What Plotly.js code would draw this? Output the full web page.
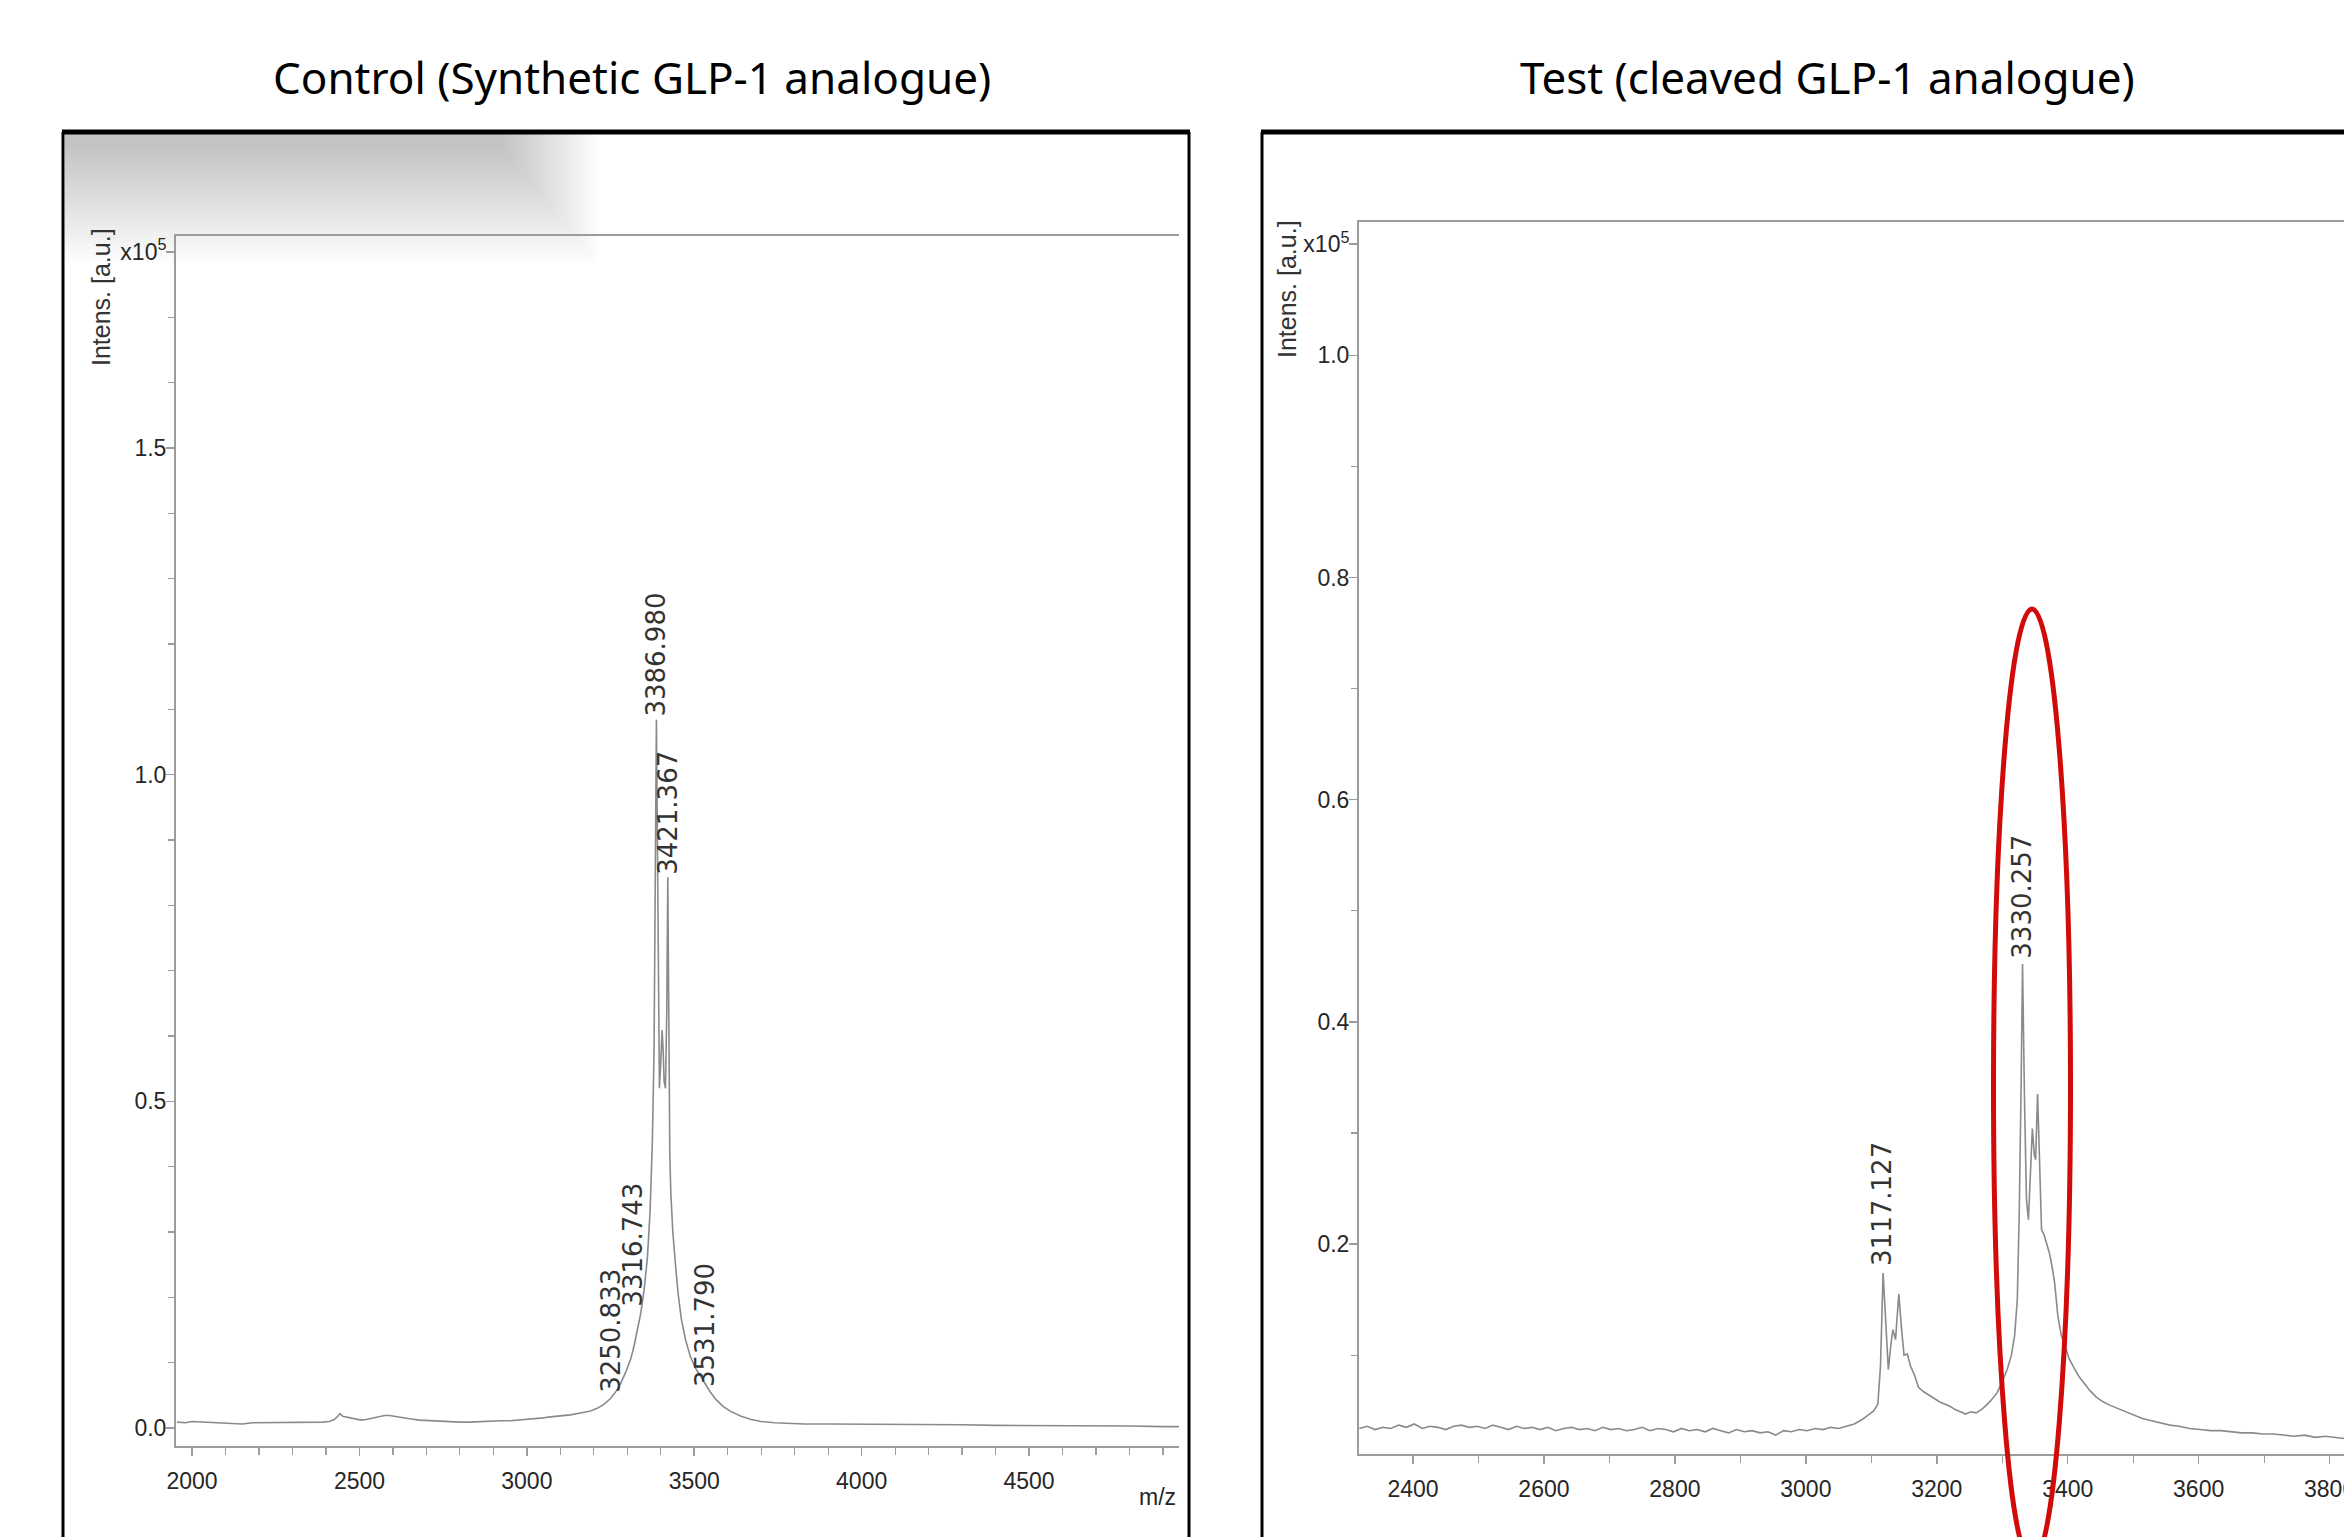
<!DOCTYPE html>
<html>
<head>
<meta charset="utf-8">
<script src="https://cdn.plot.ly/plotly-3.0.1.min.js"></script>
<style>html,body{margin:0;padding:0;background:#fff;}#chart{width:2344px;height:1537px;}</style>
</head>
<body>
<div id="chart"></div>
<script>
// ---------- Data (intensities in units of 1e5 a.u.) ----------
const controlMz = [1955,1980,2000,2030,2060,2090,2120,2150,2180,2210,2240,2270,2300,2330,2360,2390,2410,2425,2435,2442,2450,2460,2475,2490,2505,2520,2540,2560,2575,2590,2610,2630,2650,2680,2710,2740,2770,2800,2830,2860,2890,2920,2950,2980,3010,3040,3070,3100,3130,3160,3190,3210,3230,3250,3265,3280,3295,3310,3320,3330,3340,3350,3360,3368,3375,3380,3384,3387,3390,3393,3396,3400,3404,3407,3410,3414,3418,3421,3424,3427,3430,3436,3444,3452,3462,3474,3488,3502,3518,3532,3548,3566,3586,3610,3640,3670,3700,3740,3780,3830,3900,4000,4100,4200,4300,4400,4500,4600,4700,4800,4900,4948];
const controlIntensity = [0.009,0.008,0.010,0.009,0.008,0.007,0.006,0.006,0.008,0.008,0.009,0.008,0.009,0.009,0.009,0.009,0.010,0.013,0.018,0.022,0.018,0.017,0.015,0.013,0.012,0.013,0.015,0.018,0.019,0.019,0.017,0.016,0.014,0.012,0.011,0.010,0.009,0.009,0.009,0.010,0.010,0.011,0.011,0.012,0.013,0.015,0.017,0.018,0.020,0.023,0.026,0.030,0.036,0.045,0.055,0.068,0.085,0.105,0.125,0.150,0.175,0.210,0.260,0.330,0.440,0.580,0.800,1.084,0.900,0.640,0.520,0.560,0.609,0.580,0.530,0.520,0.640,0.843,0.620,0.420,0.360,0.300,0.250,0.205,0.165,0.135,0.110,0.093,0.080,0.068,0.055,0.043,0.033,0.025,0.018,0.013,0.010,0.008,0.007,0.006,0.006,0.006,0.005,0.005,0.005,0.004,0.004,0.004,0.003,0.003,0.002,0.002];

const testMz = [2318,2330,2342,2354,2366,2378,2390,2402,2414,2426,2438,2450,2462,2474,2486,2498,2510,2522,2534,2546,2558,2570,2582,2594,2606,2618,2630,2642,2654,2666,2678,2690,2702,2714,2726,2738,2750,2762,2774,2786,2798,2810,2822,2834,2846,2858,2870,2882,2894,2906,2918,2930,2942,2954,2966,2978,2990,3002,3014,3026,3038,3050,3062,3074,3086,3096,3104,3110,3114,3118,3122,3126,3130,3133,3137,3142,3146,3150,3155,3160,3166,3172,3180,3188,3196,3204,3212,3220,3228,3236,3244,3252,3260,3268,3276,3284,3292,3300,3308,3314,3319,3323,3326,3329,3331,3334,3337,3340,3343,3346,3349,3351,3354,3357,3360,3364,3368,3372,3376,3380,3385,3390,3396,3402,3410,3418,3426,3434,3444,3454,3464,3476,3488,3500,3514,3528,3542,3556,3570,3586,3602,3618,3634,3650,3666,3682,3698,3714,3730,3746,3762,3778,3794,3810,3822];
const testIntensity = [0.034,0.036,0.033,0.035,0.034,0.037,0.035,0.038,0.034,0.036,0.035,0.033,0.036,0.037,0.035,0.036,0.034,0.037,0.035,0.033,0.036,0.034,0.035,0.033,0.035,0.032,0.034,0.035,0.033,0.034,0.032,0.035,0.033,0.034,0.032,0.033,0.035,0.032,0.034,0.033,0.031,0.034,0.032,0.033,0.031,0.034,0.032,0.030,0.033,0.031,0.032,0.030,0.031,0.028,0.032,0.031,0.033,0.032,0.034,0.033,0.035,0.034,0.036,0.038,0.042,0.046,0.050,0.056,0.090,0.174,0.130,0.087,0.110,0.123,0.114,0.155,0.125,0.100,0.101,0.090,0.082,0.071,0.067,0.064,0.061,0.058,0.056,0.054,0.051,0.049,0.047,0.049,0.048,0.051,0.055,0.060,0.066,0.076,0.088,0.100,0.118,0.150,0.230,0.350,0.452,0.330,0.240,0.222,0.270,0.304,0.280,0.276,0.335,0.270,0.213,0.208,0.200,0.192,0.180,0.165,0.135,0.118,0.108,0.097,0.088,0.080,0.074,0.068,0.062,0.058,0.055,0.052,0.049,0.046,0.043,0.041,0.039,0.037,0.036,0.034,0.033,0.032,0.032,0.031,0.030,0.030,0.029,0.029,0.028,0.027,0.028,0.026,0.027,0.026,0.025];

// peak labels
const controlPeakMz = [3250.833, 3316.743, 3386.980, 3421.367, 3531.790];
const controlPeakLabelY = [0.052, 0.184, 1.088, 0.845, 0.061];
const testPeakMz = [3117.127, 3330.257];
const testPeakLabelY = [0.179, 0.456];

// axis ticks
const controlYTickVals = [0, 0.5, 1.0, 1.5, 1.8];
const controlYTickText = ['0.0', '0.5', '1.0', '1.5', 'x10<sup>5</sup>'];
const testYTickVals = [0.2, 0.4, 0.6, 0.8, 1.0, 1.1];
const testYTickText = ['0.2', '0.4', '0.6', '0.8', '1.0', 'x10<sup>5</sup>'];

const panelTitles = ['Control (Synthetic GLP-1 analogue)', 'Test (cleaved GLP-1 analogue)'];

// ---------- Layout helpers ----------
const W = 2344, H = 1537;
const px = x => x / W;
const py = y => 1 - y / H;

const AXIS_GRAY = '#9c9c9c';
const TICK_FONT = {family: '"Liberation Sans", Arial, sans-serif', size: 23, color: '#262626'};
const LABEL_FONT = {family: '"DejaVu Sans", "Liberation Sans", sans-serif', size: 26, color: '#333333'};
const TITLE_FONT = {family: '"Noto Sans", "Open Sans", sans-serif', size: 44, color: '#000'};
const YT_FONT = {family: '"Liberation Sans", Arial, sans-serif', size: 25, color: '#333'};

function xAxis(domain, range, tick0, dtick, minorDtick, anchor) {
  return {
    domain: domain, range: range, anchor: anchor,
    showline: true, linecolor: AXIS_GRAY, linewidth: 2, mirror: true,
    ticks: 'outside', ticklen: 8, tickwidth: 1.5, tickcolor: AXIS_GRAY,
    tickmode: 'linear', tick0: tick0, dtick: dtick,
    minor: {ticks: 'outside', ticklen: 7, tickwidth: 1.2, tickcolor: AXIS_GRAY, tickmode: 'linear', tick0: tick0, dtick: minorDtick, showgrid: false},
    showgrid: false, zeroline: false, tickfont: TICK_FONT, ticklabelstandoff: 5,
    ticklabeloverflow: 'allow'
  };
}
function yAxis(domain, range, vals, text, anchor) {
  return {
    domain: domain, range: range, anchor: anchor,
    showline: true, linecolor: AXIS_GRAY, linewidth: 2, mirror: false,
    ticks: 'outside', ticklen: 8, tickwidth: 1.5, tickcolor: AXIS_GRAY,
    tickmode: 'array', tickvals: vals, ticktext: text,
    minor: {ticks: 'outside', ticklen: 6, tickwidth: 1.2, tickcolor: AXIS_GRAY, tickmode: 'linear', tick0: 0, dtick: 0.1, showgrid: false},
    showgrid: false, zeroline: false, tickfont: TICK_FONT, ticklabelstandoff: -5,
    ticklabeloverflow: 'allow'
  };
}

const traces = [
  {x: controlMz, y: controlIntensity, type: 'scatter', mode: 'lines', xaxis: 'x', yaxis: 'y',
   line: {color: '#8a8a8a', width: 1.6}, hoverinfo: 'skip'},
  {x: testMz, y: testIntensity, type: 'scatter', mode: 'lines', xaxis: 'x2', yaxis: 'y2',
   line: {color: '#8a8a8a', width: 1.6}, hoverinfo: 'skip'}
];

const annotations = [];
// panel titles
annotations.push({text: panelTitles[0], xref: 'paper', yref: 'paper', x: px(632), y: py(77), xanchor: 'center', yanchor: 'middle', showarrow: false, font: TITLE_FONT});
annotations.push({text: panelTitles[1], xref: 'paper', yref: 'paper', x: px(1827), y: py(77), xanchor: 'center', yanchor: 'middle', showarrow: false, font: TITLE_FONT});
// y-axis titles
annotations.push({text: 'Intens. [a.u.]', xref: 'paper', yref: 'paper', x: px(101), y: py(226), xanchor: 'center', yanchor: 'top', textangle: -90, showarrow: false, font: YT_FONT});
annotations.push({text: 'Intens. [a.u.]', xref: 'paper', yref: 'paper', x: px(1287), y: py(218), xanchor: 'center', yanchor: 'top', textangle: -90, showarrow: false, font: YT_FONT});
// m/z label
annotations.push({text: 'm/z', xref: 'paper', yref: 'paper', x: px(1178), y: py(1497), xanchor: 'right', yanchor: 'middle', showarrow: false, font: TICK_FONT});
// peak labels
controlPeakMz.forEach((m, i) => annotations.push({
  text: m.toFixed(3), x: m, y: controlPeakLabelY[i], xref: 'x', yref: 'y', textangle: -90,
  xanchor: 'center', yanchor: 'bottom', showarrow: false, font: LABEL_FONT, borderpad: 0
}));
testPeakMz.forEach((m, i) => annotations.push({
  text: m.toFixed(3), x: m, y: testPeakLabelY[i], xref: 'x2', yref: 'y2', textangle: -90,
  xanchor: 'center', yanchor: 'bottom', showarrow: false, font: LABEL_FONT, borderpad: 0
}));

const shapes = [];
// soft gray shading in the top-left of the left frame
const N_SHADE = 20;
for (let k = 0; k < N_SHADE; k++) {
  shapes.push({type: 'rect', xref: 'paper', yref: 'paper', layer: 'below',
    x0: px(65), x1: px(598 - 5 * k), y0: py(262 - 6 * k), y1: py(134),
    fillcolor: 'rgba(0,0,0,0.011)', line: {width: 0}});
}
// black frames around each panel
const FRAME = {color: '#000', width: 3};
shapes.push({type: 'line', xref: 'paper', yref: 'paper', x0: px(62), x1: px(1190), y0: py(132), y1: py(132), line: {color: '#000', width: 5}});
shapes.push({type: 'line', xref: 'paper', yref: 'paper', x0: px(63), x1: px(63), y0: py(132), y1: -0.05, line: FRAME});
shapes.push({type: 'line', xref: 'paper', yref: 'paper', x0: px(1189), x1: px(1189), y0: py(132), y1: -0.05, line: FRAME});
shapes.push({type: 'line', xref: 'paper', yref: 'paper', x0: px(1261), x1: 1.01, y0: py(132), y1: py(132), line: {color: '#000', width: 5}});
shapes.push({type: 'line', xref: 'paper', yref: 'paper', x0: px(1262), x1: px(1262), y0: py(132), y1: -0.05, line: FRAME});
// red highlight ellipse around the 3330 peak
shapes.push({type: 'circle', xref: 'paper', yref: 'paper', x0: px(1993.5), x1: px(2070.5), y0: py(1563), y1: py(609),
  line: {color: '#d10a0a', width: 5}});

const layout = {
  width: W, height: H, margin: {l: 0, r: 0, t: 0, b: 0, pad: 0},
  paper_bgcolor: '#ffffff', plot_bgcolor: 'rgba(0,0,0,0)', showlegend: false,
  xaxis: xAxis([px(176), px(1179)], [1952, 4948], 2000, 500, 100, 'y'),
  yaxis: yAxis([py(1446), py(236)], [-0.0276, 1.8245], controlYTickVals, controlYTickText, 'x'),
  xaxis2: xAxis([px(1359), 1], [2317.5, 3822], 2400, 200, 100, 'y2'),
  yaxis2: yAxis([py(1454), py(222)], [0.011, 1.12], testYTickVals, testYTickText, 'x2'),
  annotations: annotations, shapes: shapes
};

Plotly.newPlot('chart', traces, layout, {staticPlot: true, displayModeBar: false});
</script>
</body>
</html>
